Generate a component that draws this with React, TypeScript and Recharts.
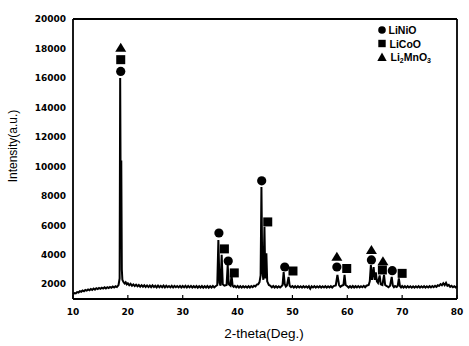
import React from "react";
import {
  ComposedChart,
  Line,
  Scatter,
  XAxis,
  YAxis,
  ReferenceLine,
  Label,
} from "recharts";

// XRD pattern: [2-theta, intensity]
const spectrum: [number, number][] = [
  [10, 1330], [10.25, 1400], [10.5, 1380], [10.75, 1470], [11, 1440], [11.25, 1530],
  [11.5, 1490], [11.75, 1580], [12, 1520], [12.25, 1610], [12.5, 1570], [12.75, 1650],
  [13, 1590], [13.25, 1680], [13.5, 1620], [13.75, 1710], [14, 1640], [14.25, 1730],
  [14.5, 1670], [14.75, 1750], [15, 1690], [15.25, 1770], [15.5, 1710], [15.75, 1790],
  [16, 1720], [16.25, 1800], [16.5, 1740], [16.75, 1820], [17, 1760], [17.25, 1850],
  [17.5, 1780], [17.75, 1860], [18, 1810], [18.3, 1950],
  [18.5, 2400], [18.6, 16000], [18.7, 7000], [18.8, 10400], [18.9, 3000],
  [19.0, 2300], [19.2, 2150], [19.4, 2060], [19.6, 2140], [19.8, 1990], [20, 2060],
  [20.25, 1930], [20.5, 2030], [20.75, 1900], [21, 1990], [21.25, 1880], [21.5, 1970],
  [21.75, 1860], [22, 1950], [22.25, 1840], [22.5, 1940], [22.75, 1830], [23, 1930],
  [23.25, 1820], [23.5, 1920], [23.75, 1810], [24, 1910], [24.25, 1800], [24.5, 1920],
  [24.75, 1810], [25, 1900], [25.25, 1790], [25.5, 1910], [25.75, 1800], [26, 1890],
  [26.25, 1800], [26.5, 1910], [26.75, 1790], [27, 1900], [27.25, 1800], [27.5, 1880],
  [27.75, 1790], [28, 1900], [28.25, 1780], [28.5, 1890], [28.75, 1800], [29, 1880],
  [29.25, 1790], [29.5, 1890], [29.75, 1780], [30, 1880], [30.25, 1790], [30.5, 1900],
  [30.75, 1780], [31, 1880], [31.25, 1790], [31.5, 1890], [31.75, 1780], [32, 1870],
  [32.25, 1790], [32.5, 1880], [32.75, 1770], [33, 1870], [33.25, 1780], [33.5, 1880],
  [33.75, 1770], [34, 1870], [34.25, 1780], [34.5, 1880], [34.75, 1770], [35, 1870],
  [35.25, 1780], [35.5, 1880], [35.75, 1790], [36, 1870],
  [36.3, 1950], [36.5, 5000], [36.7, 2100], [36.9, 1900], [37.1, 4000],
  [37.3, 2000], [37.6, 1900], [38.0, 1950], [38.2, 3300], [38.4, 2000],
  [38.7, 1900], [38.9, 2600], [39.1, 1900], [39.3, 1820], [39.5, 1890], [39.75, 1790],
  [40, 1880], [40.25, 1780], [40.5, 1870], [40.75, 1770], [41, 1870], [41.25, 1780],
  [41.5, 1860], [41.75, 1770], [42, 1870], [42.25, 1780], [42.5, 1880], [42.75, 1800],
  [43, 1900], [43.25, 1850], [43.5, 1980], [43.75, 2000],
  [44, 2150], [44.2, 2600], [44.35, 8600], [44.5, 3000], [44.7, 2300],
  [44.9, 5900], [45.05, 2400], [45.25, 4100], [45.4, 2200], [45.7, 1950],
  [46, 1900], [46.25, 1790], [46.5, 1880], [46.75, 1780], [47, 1870], [47.25, 1770],
  [47.5, 1860], [47.75, 1780], [48, 1870], [48.2, 1950],
  [48.4, 2830], [48.6, 2000], [48.8, 1850], [49, 1920], [49.3, 2500], [49.5, 1900],
  [49.75, 1800], [50, 1880], [50.25, 1780], [50.5, 1870], [50.75, 1770], [51, 1870],
  [51.25, 1780], [51.5, 1860], [51.75, 1770], [52, 1870], [52.25, 1780], [52.5, 1860],
  [52.75, 1770], [53, 1870], [53.25, 1700], [53.5, 1860], [53.75, 1780], [54, 1870],
  [54.25, 1770], [54.5, 1860], [54.75, 1780], [55, 1870], [55.25, 1770], [55.5, 1860],
  [55.75, 1780], [56, 1870], [56.25, 1770], [56.5, 1860], [56.75, 1780], [57, 1870],
  [57.25, 1780], [57.5, 1880], [57.9, 1920], [58.2, 2630],
  [58.5, 1950], [58.75, 1830], [59, 1900], [59.3, 1950], [59.5, 2630], [59.7, 1950],
  [60, 1870], [60.25, 1780], [60.5, 1870], [60.75, 1780], [61, 1880], [61.25, 1780],
  [61.5, 1870], [61.75, 1790], [62, 1880], [62.25, 1790], [62.5, 1870], [62.75, 1800],
  [63, 1890], [63.25, 1800], [63.5, 1900], [63.9, 1950], [64.1, 2200], [64.3, 3300],
  [64.5, 2300], [64.8, 3170], [65, 2300], [65.2, 2800], [65.4, 2200], [65.6, 2100],
  [65.9, 2600], [66.1, 2000], [66.4, 1950], [66.7, 2630], [66.9, 1950],
  [67.2, 1880], [67.5, 1800], [67.8, 1900], [68.1, 2500], [68.3, 1900],
  [68.5, 1800], [68.7, 1880], [69, 1820], [69.2, 1900], [69.4, 2400], [69.6, 1880],
  [69.8, 1790], [70, 1880], [70.25, 1780], [70.5, 1870], [70.75, 1770], [71, 1870],
  [71.25, 1780], [71.5, 1860], [71.75, 1770], [72, 1860], [72.25, 1770], [72.5, 1860],
  [72.75, 1780], [73, 1870], [73.25, 1770], [73.5, 1860], [73.75, 1780], [74, 1870],
  [74.25, 1770], [74.5, 1860], [74.75, 1780], [75, 1870], [75.25, 1790], [75.5, 1880],
  [75.75, 1800], [76, 1890], [76.25, 1820], [76.5, 1930], [76.75, 1890], [77, 2010],
  [77.25, 1930], [77.5, 2070], [77.75, 1940], [78, 2090], [78.25, 1900], [78.5, 1960],
  [78.75, 1820], [79, 1890], [79.25, 1800], [79.5, 1870], [79.75, 1790], [80, 1860],
];

// phase markers [2-theta, marker height]
const liNiO: [number, number][] = [
  [18.7, 16440], [36.6, 5480], [38.3, 3580], [44.4, 9020],
  [48.6, 3170], [58.1, 3170], [64.4, 3650], [68.2, 2920],
];
const liCoO: [number, number][] = [
  [18.7, 17240], [37.6, 4400], [39.4, 2770], [45.5, 6230],
  [50.1, 2900], [59.9, 3070], [66.4, 2970], [70.0, 2740],
];
const li2MnO3: [number, number][] = [
  [18.7, 18050], [58.1, 3860], [64.4, 4330], [66.5, 3560],
];

const xTicks = [10, 20, 30, 40, 50, 60, 70, 80];
const yTicks = [2000, 4000, 6000, 8000, 10000, 12000, 14000, 16000, 18000, 20000];

const toRows = (arr: [number, number][]) => arr.map(([x, y]) => ({ x, y }));
const lineData = toRows(spectrum);

const tickFont = {
  fontFamily: "DejaVu Sans",
  fontWeight: 700,
  fontSize: 9,
  fill: "#000",
};

const CircleShape = (p: any) => <circle cx={p.cx} cy={p.cy} r={4.6} fill="#000" />;
const SquareShape = (p: any) => (
  <rect x={p.cx - 4.5} y={p.cy - 4.5} width={9} height={9} fill="#000" />
);
const TriangleShape = (p: any) => (
  <polygon
    points={`${p.cx},${p.cy - 5} ${p.cx - 5.5},${p.cy + 4} ${p.cx + 5.5},${p.cy + 4}`}
    fill="#000"
  />
);

const legendFont = {
  fontFamily: "Liberation Sans",
  fontWeight: 700,
  fontSize: 10.5,
  fill: "#000",
};

export default function App() {
  return (
    <div style={{ position: "absolute", left: 0, top: 0, width: 469, height: 346, background: "#fff" }}>
      <ComposedChart
        width={469}
        height={346}
        data={lineData}
        margin={{ top: 19, right: 12, left: 0, bottom: 0 }}
      >
        <XAxis
          dataKey="x"
          type="number"
          domain={[10, 80]}
          ticks={xTicks}
          height={47}
          tickSize={-4}
          tickMargin={14}
          tick={tickFont}
          axisLine={{ stroke: "#000", strokeWidth: 1.8 }}
          tickLine={{ stroke: "#000", strokeWidth: 1.2 }}
          interval={0}
        >
          <Label
            content={() => (
              <text
                x={264}
                y={333}
                textAnchor="middle"
                dominantBaseline="central"
                style={{ fontFamily: "Liberation Sans", fontSize: 13.5, fill: "#000" }}
              >
                2-theta(Deg.)
              </text>
            )}
          />
        </XAxis>
        <YAxis
          type="number"
          domain={[1000, 20000]}
          ticks={yTicks}
          width={73}
          tickSize={0}
          tickMargin={7}
          tickLine={false}
          tick={tickFont}
          axisLine={{ stroke: "#000", strokeWidth: 1.8 }}
          interval={0}
        >
          <Label
            content={() => (
              <text
                x={13}
                y={146}
                transform="rotate(-90 13 146)"
                textAnchor="middle"
                dominantBaseline="central"
                style={{ fontFamily: "Liberation Sans", fontSize: 12, fill: "#000" }}
              >
                Intensity(a.u.)
              </text>
            )}
          />
        </YAxis>
        <ReferenceLine y={20000} stroke="#000" strokeWidth={2} />
        <ReferenceLine x={80} stroke="#000" strokeWidth={1.8} />
        <Line
          dataKey="y"
          type="linear"
          stroke="#000"
          strokeWidth={2}
          dot={false}
          isAnimationActive={false}
        />
        <Scatter data={toRows(liNiO)} dataKey="y" shape={CircleShape} isAnimationActive={false} />
        <Scatter data={toRows(liCoO)} dataKey="y" shape={SquareShape} isAnimationActive={false} />
        <Scatter data={toRows(li2MnO3)} dataKey="y" shape={TriangleShape} isAnimationActive={false} />
      </ComposedChart>
      <svg
        width={469}
        height={346}
        style={{ position: "absolute", left: 0, top: 0, pointerEvents: "none" }}
      >
        <circle cx={382} cy={30} r={3.8} fill="#000" />
        <text x={388.5} y={30} dominantBaseline="central" style={legendFont}>LiNiO</text>
        <rect x={378.3} y={39.8} width={7.4} height={7.4} fill="#000" />
        <text x={389.5} y={43.5} dominantBaseline="central" style={legendFont}>LiCoO</text>
        <polygon points="382,52.5 377.3,61 386.7,61" fill="#000" />
        <text x={390.5} y={57} dominantBaseline="central" style={legendFont}>
          Li<tspan fontSize={7} dy={2.5}>2</tspan>
          <tspan dy={-2.5}>MnO</tspan>
          <tspan fontSize={7} dy={2.5}>3</tspan>
        </text>
      </svg>
    </div>
  );
}
